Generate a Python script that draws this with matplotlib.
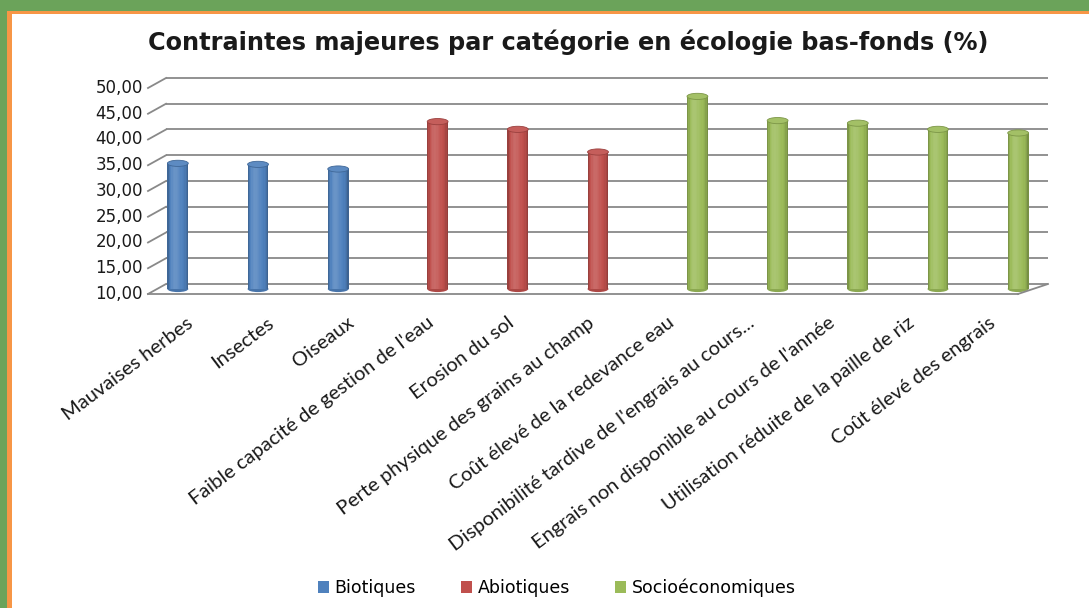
import matplotlib as mpl
import matplotlib.pyplot as plt
from matplotlib.patches import Ellipse, Patch, Rectangle
from matplotlib.lines import Line2D
from matplotlib.transforms import ScaledTranslation
import numpy as np

mpl.rcParams['font.family'] = 'DejaVu Sans'

# data
categories = ["Mauvaises herbes", "Insectes", "Oiseaux",
              "Faible capacité de gestion de l'eau", "Erosion du sol",
              "Perte physique des grains au champ",
              "Coût élevé de la redevance eau",
              "Disponibilité tardive de l'engrais au cours...",
              "Engrais non disponible au cours de l'année",
              "Utilisation réduite de la paille de riz",
              "Coût élevé des engrais"]
values = [34.4, 34.2, 33.3, 42.5, 41.0, 36.6, 47.4, 42.7, 42.2, 41.0, 40.3]
groups = [0, 0, 0, 1, 1, 1, 2, 2, 2, 2, 2]
group_names = ["Biotiques", "Abiotiques", "Socioéconomiques"]
group_colors = ["#4f81bd", "#c0504d", "#9bbb59"]
yticks = [10, 15, 20, 25, 30, 35, 40, 45, 50]

W, H = 1089, 608
fig = plt.figure(figsize=(W / 100, H / 100), dpi=100)
fig.patch.set_facecolor("#6ba35a")
fig.patches.append(Rectangle((7 / W, 0), 1, (H - 11) / H, transform=fig.transFigure,
                             facecolor="#f79646", edgecolor="none", zorder=-2))
fig.patches.append(Rectangle((12 / W, 0), 1, (H - 14) / H, transform=fig.transFigure,
                             facecolor="white", edgecolor="none", zorder=-1))

# axes = middle plane of the 3d box
ax = fig.add_axes([157 / W, (H - 289) / H, 882 / W, 206 / H])
ax.set_xlim(-0.5, len(categories) - 0.5)
ax.set_ylim(10, 50)
ax.axis("off")
ax.patch.set_alpha(0)

dx, dy = 9, 5  # half depth in pixels


def shift(px, py):
    return ax.transData + ScaledTranslation(px / 100, py / 100, fig.dpi_scale_trans)


to_fig = fig.transFigure.inverted()


def fig_pt(x, y, px, py):
    d = ax.transData.transform((x, y)) + np.array([px, py])
    return to_fig.transform(d)


grid_c = "#898989"
x0, x1 = -0.5, len(categories) - 0.5
for yv in yticks:
    # back wall line
    ax.plot([x0, x1], [yv, yv], color=grid_c, lw=1.3, transform=shift(dx, dy),
            solid_capstyle="butt", zorder=1, clip_on=False)
    # left side wall slant
    a = fig_pt(x0, yv, -dx, -dy)
    b = fig_pt(x0, yv, dx, dy)
    fig.add_artist(Line2D([a[0], b[0]], [a[1], b[1]], color=grid_c, lw=1.3,
                          transform=fig.transFigure))
    ax.text(x0, yv, ("%.2f" % yv).replace(".", ","), transform=shift(-14, -dy),
            ha="right", va="center", fontsize=12, color="#1a1a1a")

# floor front edge and right slant
ax.plot([x0, x1 - 0.15], [10, 10], color=grid_c, lw=1.3, transform=shift(-dx, -dy),
        zorder=1, clip_on=False)
a = fig_pt(x1 - 0.15, 10, -dx, -dy)
b = fig_pt(x1, 10, dx, dy)
fig.add_artist(Line2D([a[0], b[0]], [a[1], b[1]], color=grid_c, lw=1.3,
                      transform=fig.transFigure))

# cylinders
offsets = [-0.24, 0.0, 0.24]
bw = 0.26
n_strip = 16


def shade(col, f):
    c = np.array(mpl.colors.to_rgb(col))
    if f >= 0:
        return tuple(c + (1 - c) * f)
    return tuple(c * (1 + f))


for i, (v, g) in enumerate(zip(values, groups)):
    xc = i + offsets[g]
    col = group_colors[g]
    sw = bw / n_strip
    for j in range(n_strip):
        t = (j + 0.5) / n_strip * 2 - 1
        f = 0.15 * np.exp(-((t + 0.3) / 0.5) ** 2) - 0.3 * abs(t) ** 4
        ax.bar(xc - bw / 2 + (j + 0.5) * sw, v - 10, sw * 1.05, bottom=10,
               color=shade(col, f), edgecolor="none", zorder=3, clip_on=False)
    ax.add_patch(Ellipse((xc, 10), bw, 1.2, facecolor=shade(col, -0.1),
                         edgecolor="none", zorder=2.9, clip_on=False))
    ax.add_patch(Ellipse((xc, v), bw, 1.2, facecolor=shade(col, 0.08),
                         edgecolor=shade(col, -0.2), lw=0.6, zorder=4, clip_on=False))

# category labels
for i, lab in enumerate(categories):
    ax.text(i, 10, lab, transform=shift(-6, -32), rotation=37, rotation_mode="anchor",
            ha="right", va="center", fontsize=14.5, family="Lato", color="#1a1a1a")

fig.text(568 / W, 1 - 42 / H, "Contraintes majeures par catégorie en écologie bas-fonds (%)",
         ha="center", va="center", fontsize=17.3, weight="bold", color="#1a1a1a")

handles = [Patch(facecolor=c, edgecolor="none") for c in group_colors]
fig.legend(handles, group_names, loc="center", bbox_to_anchor=(557 / W, 1 - 588 / H),
           ncol=3, frameon=False, fontsize=12.5, handlelength=0.6, handleheight=0.7,
           handletextpad=0.35, columnspacing=2.6)

fig.savefig("out.png", dpi=100)
